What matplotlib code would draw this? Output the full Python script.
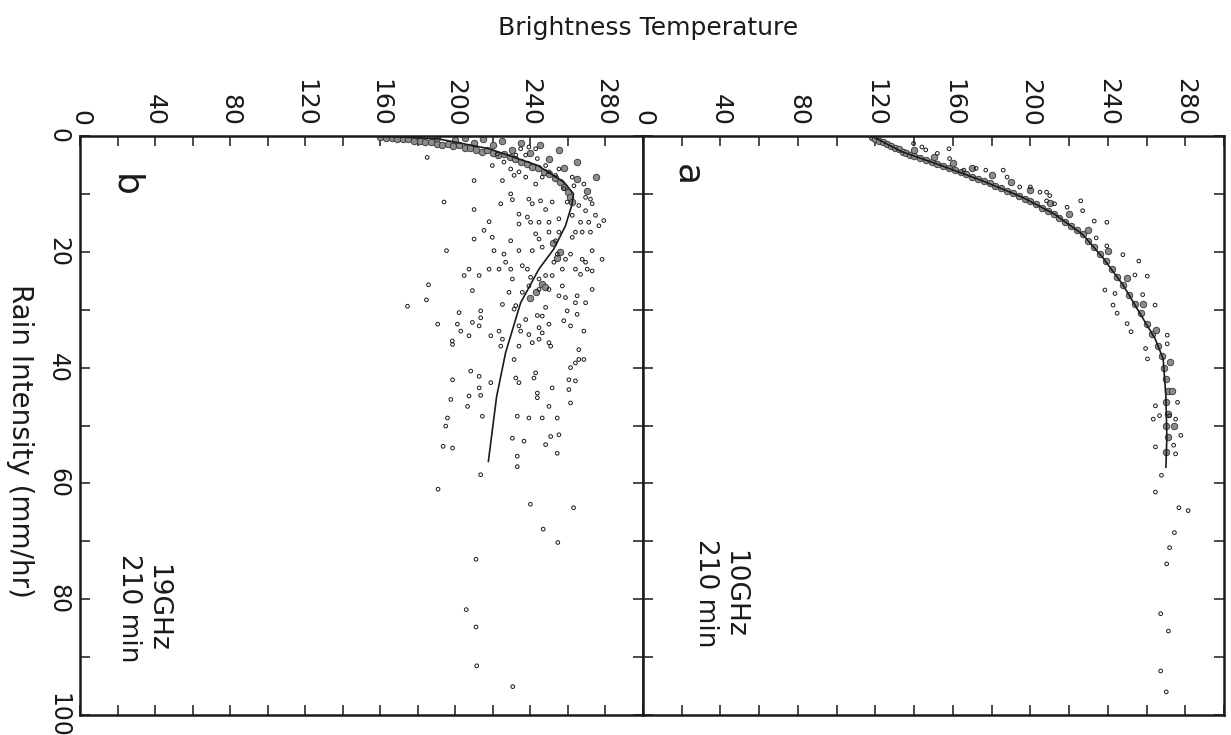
import matplotlib
matplotlib.use("Agg")
import matplotlib.pyplot as plt
from matplotlib.ticker import MultipleLocator
from matplotlib.transforms import ScaledTranslation

# ---- panel b : 19 GHz ----
# scattered observations (brightness temperature K, rain rate mm/hr)
b_scatter_T = [194.0, 210.0, 225.1, 210.0, 224.2, 229.5, 230.4, 218.0, 233.9, 238.4,
               239.2, 241.0, 245.4, 251.6, 248.1, 255.2, 249.9, 244.6, 240.1, 233.9,
               229.5, 215.3, 219.7, 210.0, 195.3, 220.6, 225.9, 233.9, 241.0, 246.3,
               255.2, 261.4, 264.0, 267.6, 272.0, 276.5, 279.1, 272.9, 269.4, 268.5,
               269.4, 274.7, 278.2, 272.9, 269.4, 267.6, 270.3, 272.9, 266.7, 264.0,
               258.7, 257.0, 251.6, 248.1, 244.6, 240.1, 238.4, 235.7, 229.5, 226.8,
               223.3, 218.0, 212.7, 207.3, 204.7, 209.1, 230.4, 228.6, 235.7, 239.2,
               244.6, 249.9, 255.2, 257.0, 258.7, 264.9, 269.4, 272.9, 264.0, 259.6,
               264.9, 257.8, 261.4, 268.5, 249.9, 246.3, 248.1, 243.7, 244.6, 237.5,
               233.9, 234.8, 239.2, 241.0, 244.6, 246.3, 249.9, 250.8, 233.9, 232.2,
               231.3, 225.1, 213.5, 213.5, 212.7, 209.1, 202.0, 201.1, 202.9, 207.3,
               198.5, 218.9, 223.3, 225.1, 224.2, 231.3, 232.2, 233.9, 242.8, 241.9,
               208.2, 212.7, 218.9, 198.5, 212.7, 213.5, 207.3, 206.5, 197.6, 243.7,
               243.7, 249.9, 251.6, 260.5, 264.0, 260.5, 261.4, 264.0, 265.8, 268.5,
               261.4, 265.8, 214.4, 233.0, 239.2, 246.3, 254.3, 195.8, 194.9, 193.5,
               198.5, 230.4, 236.6, 248.1, 250.8, 255.2, 254.3, 233.0, 233.0, 213.5,
               262.3, 253.4, 242.8, 244.6, 249.9, 254.3, 252.5, 265.8, 266.7, 262.3,
               271.1, 272.0, 257.8, 259.6, 262.3, 263.2, 255.2, 253.4, 249.9, 246.3,
               242.8, 237.5, 233.9, 231.3, 229.5, 225.9, 222.4, 219.7, 237.5, 242.8,
               248.1, 234.8, 232.2, 239.2, 243.7, 185.0, 185.7, 174.5, 184.6, 190.6,
               198.4, 190.8, 240.0, 263.0, 246.8, 254.6, 211.0, 205.8, 211.0, 211.4,
               230.6]
b_scatter_R = [11.4, 7.7, 7.7, 12.7, 11.7, 10.0, 11.0, 14.8, 13.5, 14.0,
               10.9, 11.7, 11.2, 11.4, 12.7, 14.3, 14.9, 14.9, 14.9, 15.2,
               18.1, 16.3, 17.5, 17.8, 19.8, 19.8, 20.4, 19.8, 19.8, 19.2,
               16.6, 20.4, 16.6, 16.6, 16.6, 15.5, 14.6, 11.7, 10.6, 8.3,
               12.9, 13.7, 21.3, 19.8, 21.8, 21.3, 23.0, 23.3, 23.9, 23.0,
               21.3, 23.0, 24.1, 24.1, 24.7, 24.4, 23.0, 22.4, 23.0, 21.8,
               23.0, 23.0, 24.1, 23.0, 24.1, 26.7, 24.7, 27.0, 27.0, 25.9,
               26.5, 26.5, 27.6, 25.9, 27.9, 27.6, 28.8, 26.5, 28.8, 30.2,
               30.8, 31.9, 32.8, 33.7, 32.5, 31.1, 29.6, 31.0, 33.1, 31.7,
               32.8, 33.7, 34.3, 35.7, 35.1, 34.0, 35.7, 36.3, 36.3, 29.3,
               29.9, 29.1, 30.2, 31.4, 32.8, 32.2, 30.5, 32.5, 33.7, 34.5,
               36.0, 34.5, 33.7, 35.1, 36.3, 38.6, 41.8, 42.6, 40.9, 41.8,
               40.6, 41.5, 42.6, 42.1, 43.5, 44.8, 44.9, 46.7, 45.5, 44.4,
               45.2, 46.7, 43.5, 42.1, 42.3, 43.8, 46.1, 39.2, 38.6, 38.6,
               40.0, 36.9, 48.4, 48.4, 48.7, 48.7, 48.7, 48.7, 50.1, 53.6,
               53.9, 52.2, 52.7, 53.3, 51.9, 51.6, 54.8, 55.3, 57.1, 58.5,
               17.5, 18.1, 16.9, 17.8, 16.6, 20.4, 21.8, 12.0, 14.9, 13.7,
               14.9, 10.9, 9.1, 11.4, 7.1, 8.6, 5.7, 6.8, 6.2, 7.1,
               8.3, 7.1, 6.2, 6.8, 5.7, 4.5, 3.1, 5.1, 3.3, 2.2,
               5.1, 2.2, 3.3, 1.9, 3.9, 3.7, 25.7, 29.4, 28.3, 32.5,
               35.4, 61.0, 63.6, 64.2, 67.9, 70.2, 73.1, 81.8, 84.8, 91.5,
               95.1]
# dense band of points near the surface
b_band_T = [160, 163, 166, 169, 172, 175, 178, 181, 184, 187, 190, 193, 196, 199,
            202, 205, 208, 211, 214, 217, 220, 223, 226, 229, 232, 235, 238, 241,
            244, 247, 250, 253, 256, 258, 260, 261, 262, 190, 200, 210, 220, 230,
            240, 250, 258, 265, 270, 205, 215, 225, 235, 245, 255, 265, 275, 252,
            256, 254, 246, 243, 248, 240]
b_band_R = [0.2, 0.3, 0.4, 0.5, 0.6, 0.5, 0.8, 0.9, 1.1, 1.0, 1.3, 1.5, 1.4, 1.8,
            1.6, 2.1, 2.0, 2.4, 2.7, 2.5, 3.0, 3.3, 3.1, 3.7, 4.0, 4.5, 4.8, 5.3,
            5.6, 6.2, 6.6, 7.3, 8.0, 8.8, 9.6, 10.5, 11.4, 0.4, 0.7, 1.2, 1.6, 2.4,
            3.0, 4.0, 5.5, 7.5, 9.5, 0.3, 0.5, 0.8, 1.2, 1.5, 2.5, 4.5, 7.0, 18.5,
            20.0, 21.0, 25.5, 27.0, 26.0, 28.0]
# model curve
b_line_T = [160, 191, 218, 244, 258, 263, 262, 258.7, 252.5, 244.5, 234.8, 226.8, 222, 217.6]
b_line_R = [0, 0.5, 2.2, 5.1, 8, 10, 12, 15.5, 19.5, 23, 28.8, 37.4, 45, 56.2]

# ---- panel a : 10 GHz ----
a_scatter_T = [144, 158, 165.7, 172, 186, 188, 194.5, 205, 210, 212.5,
               219, 226, 227, 233, 239.5, 234, 239.5, 247.8, 256, 254,
               260.4, 258, 264.4, 270.7, 270.7, 238.5, 243.7, 242.7, 244.8, 250,
               252, 259.5, 260.5, 139.7, 146, 152, 158.3, 177, 200, 208.4,
               208.4, 264.6, 276, 266.7, 263.5, 271.9, 275, 277.7, 264.6, 274,
               275, 267.7, 264.6, 276.7, 281.5, 274.4, 271.9, 270.4, 267.3, 271.3,
               267.3, 270.2]
a_scatter_R = [1.9, 2.2, 5.9, 5.6, 5.9, 7.1, 8.8, 9.7, 10.3, 11.7,
               12.3, 11.2, 12.9, 14.7, 14.9, 17.6, 19.0, 20.5, 21.6, 24.0,
               24.2, 27.4, 29.2, 34.4, 35.9, 26.6, 27.2, 29.2, 30.6, 32.4,
               33.8, 36.7, 38.5, 1.3, 2.4, 3.0, 3.9, 5.9, 8.8, 9.7,
               11.2, 46.6, 46.0, 48.3, 48.9, 48.3, 48.9, 51.7, 53.7, 53.4,
               54.9, 58.6, 61.5, 64.2, 64.7, 68.5, 71.1, 73.9, 82.5, 85.5,
               92.4, 96.0]
a_band_T = [118, 120, 122, 124, 126, 128, 130, 132, 134, 136, 138, 140,
            143, 146, 149, 152, 155, 158, 161, 164, 167, 170,
            173, 176, 179, 182, 185, 188, 191, 194, 197, 200,
            203, 206, 209, 212, 215, 218, 221, 224, 227, 230,
            233, 236, 239, 242, 245, 248, 251, 254, 257, 260,
            263, 266, 268, 269, 270, 271, 270, 271, 270, 271, 270,
            140, 150, 160, 170, 180, 190, 200, 210, 220, 230, 240, 250,
            258, 265, 272, 273, 274]
a_band_R = [0.2, 0.5, 0.8, 1.0, 1.4, 1.7, 2.0, 2.3, 2.7, 3.0, 3.2, 3.4,
            3.8, 4.1, 4.5, 4.9, 5.2, 5.5, 5.9, 6.3, 6.6, 7.0,
            7.4, 7.8, 8.2, 8.6, 9.0, 9.5, 9.9, 10.3, 10.8, 11.3,
            11.8, 12.4, 12.9, 13.5, 14.2, 14.9, 15.6, 16.3, 17.0, 18.1,
            19.2, 20.3, 21.6, 23.0, 24.3, 25.7, 27.4, 29.0, 30.6, 32.4,
            34.2, 36.2, 38.0, 40.0, 42.0, 44.0, 46.0, 48.0, 50.0, 52.0, 54.5,
            2.4, 3.6, 4.6, 5.6, 6.7, 8.0, 9.3, 11.5, 13.4, 16.2, 19.8, 24.5,
            29.0, 33.5, 39.0, 44.0, 50.0]
a_line_T = [118, 133.5, 154, 175, 196, 212.5, 227, 237.4, 247.8, 256, 264.4, 268.6, 270, 270.5, 270]
a_line_R = [0, 2.7, 5.1, 7.7, 10.6, 13.5, 17, 21, 25.7, 30.3, 35, 38.5, 45, 52, 57.2]

ink = '#1a1a1a'
plt.rcParams['font.family'] = ['DejaVu Sans']

fig = plt.figure(figsize=(12.31, 7.35), dpi=100)
ax_b = fig.add_axes([80/1231, 20/735, 563/1231, 579/735])
ax_a = fig.add_axes([643/1231, 20/735, 581/1231, 579/735])

panels = [
    (ax_b, b_scatter_T, b_scatter_R, b_band_T, b_band_R, b_line_T, b_line_R),
    (ax_a, a_scatter_T, a_scatter_R, a_band_T, a_band_R, a_line_T, a_line_R),
]

for ax, sT, sR, bT, bR, lT, lR in panels:
    ax.scatter(bT, bR, s=22, facecolors='#8c8c8c', edgecolors='#333333', linewidths=0.6, zorder=2)
    ax.scatter(sT, sR, s=7, facecolors='none', edgecolors=ink, linewidths=0.7, zorder=3)
    ax.plot(lT, lR, color=ink, lw=1.2, zorder=4)
    ax.set_xlim(0, 300)
    ax.set_ylim(100, 0)
    ax.xaxis.set_major_locator(MultipleLocator(40))
    ax.xaxis.set_minor_locator(MultipleLocator(20))
    ax.yaxis.set_major_locator(MultipleLocator(20))
    ax.yaxis.set_minor_locator(MultipleLocator(10))
    ax.tick_params(which='both', direction='in', top=True, bottom=True,
                   left=True, right=True, length=7, width=1.1, color=ink)
    ax.tick_params(axis='x', labeltop=True, labelbottom=False, labelrotation=-90,
                   labelsize=18, pad=7, labelcolor=ink)
    for sp in ax.spines.values():
        sp.set_linewidth(1.8)
        sp.set_color(ink)

ax_b.tick_params(axis='y', labelleft=True, labelrotation=-90, labelsize=17, pad=7, labelcolor=ink)
ylabs = ax_b.get_yticklabels()
for lab in ylabs:
    lab.set_va('center')
# keep the "100" label inside the picture
ylabs[-1].set_transform(ylabs[-1].get_transform() + ScaledTranslation(0, 5/100, fig.dpi_scale_trans))
ax_a.tick_params(axis='y', labelleft=False)

ax_b.text(24, 8.5, 'b', rotation=-90, fontsize=26, ha='center', va='center', color=ink)
ax_a.text(23, 6.8, 'a', rotation=-90, fontsize=26, ha='center', va='center', color=ink)
ax_b.text(33.5, 81.5, '19GHz\n210 min', rotation=-90, fontsize=19, ha='center', va='center',
          color=ink, linespacing=1.1)
ax_a.text(40, 79, '10GHz\n210 min', rotation=-90, fontsize=19, ha='center', va='center',
          color=ink, linespacing=1.1)

fig.text(20/1231, 1 - 441/735, 'Rain Intensity (mm/hr)', rotation=-90, fontsize=20,
         ha='center', va='center', color=ink)
fig.text(648/1231, 1 - 28/735, 'Brightness Temperature', fontsize=18,
         ha='center', va='center', color=ink)

fig.savefig('out.png', dpi=100)
